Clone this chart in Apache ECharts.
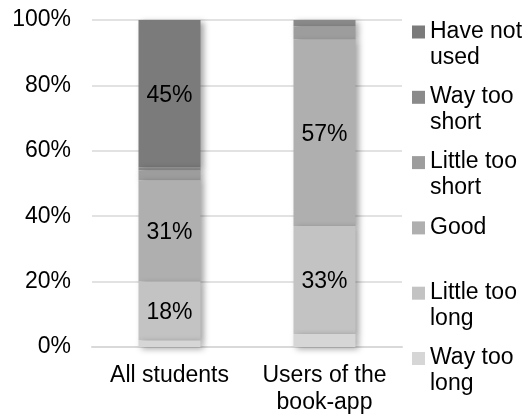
<!DOCTYPE html>
<html>
<head>
<meta charset="utf-8">
<script src="https://cdn.jsdelivr.net/npm/echarts@6/dist/echarts.min.js"></script>
<style>
html,body{margin:0;padding:0;background:#fff;}
#chart{width:529px;height:416px;}
</style>
</head>
<body>
<div id="chart"></div>
<script>
var categories = ['All students', 'Users of the\nbook-app'];
var seriesNames = ['Way too long', 'Little too long', 'Good', 'Little too short', 'Way too short', 'Have not used'];
var legendLabels = {
  'Have not used': 'Have not\nused',
  'Way too short': 'Way too\nshort',
  'Little too short': 'Little too\nshort',
  'Good': 'Good\n ',
  'Little too long': 'Little too\nlong',
  'Way too long': 'Way too\nlong'
};
var wayTooLong = [2, 4];
var littleTooLong = [18, 33];
var good = [31, 57];
var littleTooShort = [3, 4];
var wayTooShort = [1, 2];
var haveNotUsed = [45, 0];
var yTicks = [0, 20, 40, 60, 80, 100];

var values = [wayTooLong, littleTooLong, good, littleTooShort, wayTooShort, haveNotUsed];
var colors = ['#d6d6d6', '#c3c3c3', '#afafaf', '#9d9d9d', '#8a8a8a', '#7b7b7b'];
var FONT = 'Liberation Sans, Arial, sans-serif';

var chart = echarts.init(document.getElementById('chart'), null, {renderer: 'canvas'});

var series = seriesNames.map(function (name, i) {
  return {
    name: name,
    type: 'bar',
    stack: 'total',
    barWidth: '40%',
    z: 10 - i,
    data: values[i],
    itemStyle: {
      color: colors[i],
      shadowColor: 'rgba(0,0,0,0.35)',
      shadowBlur: 6,
      shadowOffsetX: 3,
      shadowOffsetY: 2
    },
    label: {
      show: true,
      position: 'inside',
      offset: [0, 2],
      color: '#000',
      fontFamily: FONT,
      fontSize: 23,
      formatter: function (p) { return p.value >= 10 ? p.value + '%' : ''; }
    },
    emphasis: {disabled: true}
  };
});

// square drawn at the first text line inside a box as tall as the two-line label
var legendIcon = 'path://M0,0L0,0M0,7L13,7L13,20L0,20ZM13,52L13,52';

chart.setOption({
  animation: false,
  backgroundColor: '#fff',
  grid: {left: 92, right: 127, top: 20, bottom: 64, containLabel: false},
  legend: {
    orient: 'vertical',
    left: 412,
    top: 18.5,
    padding: 0,
    itemWidth: 13,
    itemHeight: 52,
    itemGap: 13.3,
    icon: legendIcon,
    data: seriesNames.slice().reverse(),
    formatter: function (name) { return legendLabels[name]; },
    textStyle: {
      color: '#000',
      fontFamily: FONT,
      fontSize: 23,
      lineHeight: 26
    },
    selectedMode: false
  },
  xAxis: {
    type: 'category',
    data: categories,
    axisTick: {show: false},
    axisLine: {lineStyle: {color: '#d9d9d9', width: 2}},
    axisLabel: {
      color: '#000',
      fontFamily: FONT,
      fontSize: 23,
      lineHeight: 27,
      margin: 15,
      interval: 0
    }
  },
  yAxis: {
    type: 'value',
    min: yTicks[0],
    max: yTicks[yTicks.length - 1],
    interval: yTicks[1] - yTicks[0],
    axisLine: {show: false},
    axisTick: {show: false},
    splitLine: {lineStyle: {color: '#d9d9d9', width: 1.5}},
    axisLabel: {
      color: '#000',
      fontFamily: FONT,
      fontSize: 23,
      margin: 21,
      padding: [4, 0, 0, 0],
      formatter: '{value}%'
    }
  },
  series: series
});
</script>
</body>
</html>
